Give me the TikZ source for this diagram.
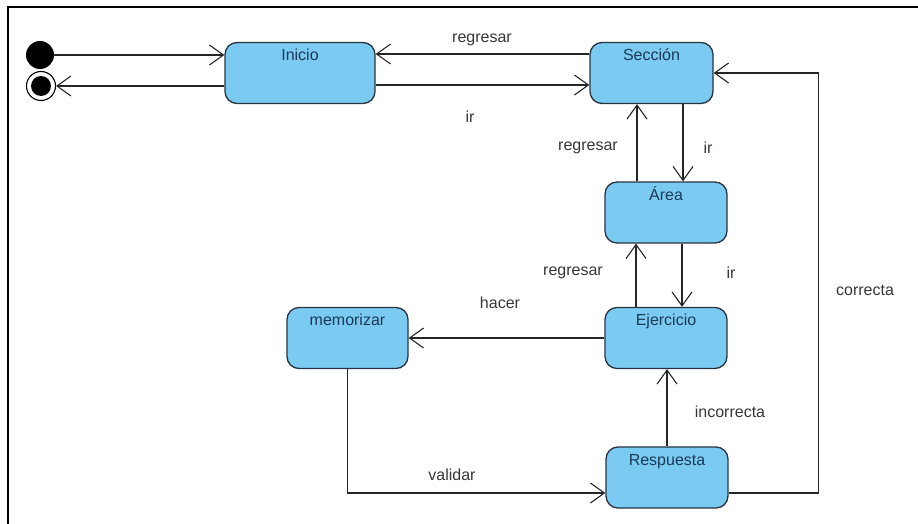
\documentclass[tikz,border=0pt]{standalone}
\usepackage{fontspec}
\setmainfont{Liberation Sans}
\usetikzlibrary{arrows.meta,calc}
\definecolor{stfill}{RGB}{122,202,242}
\definecolor{stdraw}{RGB}{40,52,64}
\definecolor{sttext}{RGB}{28,58,88}
\definecolor{lbtext}{RGB}{55,55,55}
\begin{document}
\begin{tikzpicture}[x=1pt,y=-1pt,
  state/.style={draw=stdraw, fill=stfill, line width=1.3pt, rounded corners=12pt,
    minimum height=61pt, inner ysep=6pt, text height=12pt, text depth=37pt,
    text=sttext, font=\fontsize{16}{19}\selectfont},
  arr/.style={-{Straight Barb[length=14pt,width=20pt]}, line width=1.1pt, draw=black!85},
  lbl/.style={text=lbtext, font=\fontsize{16}{19}\selectfont, inner sep=0pt}]
\useasboundingbox (0,0) rectangle (918,524);
\draw[line width=1.6pt] (8,524) -- (8,7) -- (918,7);
% initial / final
\node[circle, fill=black, minimum size=28pt, inner sep=0pt] (ini) at (40,55) {};
\node[circle, draw=black, line width=1.1pt, fill=white, minimum size=29pt, inner sep=0pt] (fin) at (41,86) {};
\node[circle, fill=black, minimum size=20pt, inner sep=0pt] at (fin) {};
% states
\node[state, minimum width=150pt] (Inicio) at (300,73) {Inicio};
\node[state, minimum width=123pt] (Seccion) at (651.5,73) {Sección};
\node[state, minimum width=122pt] (Area) at (666,212.5) {Área};
\node[state, minimum width=122pt] (Ejercicio) at (666,338) {Ejercicio};
\node[state, minimum width=121pt] (memorizar) at (347.5,338) {memorizar};
\node[state, minimum width=122pt] (Respuesta) at (667,477.5) {Respuesta};
% connectors
\draw[arr] (ini.east) -- (ini -| Inicio.west);
\draw[arr] ($(Inicio.west)+(0,13)$) -- (fin.east);
\draw[arr] ($(Seccion.west)+(0,-19)$) -- ($(Inicio.east)+(0,-19)$);
\draw[arr] ($(Inicio.east)+(0,12)$) -- ($(Seccion.west)+(0,12)$);
\draw[arr] ($(Area.north)+(-29,0)$) -- ($(Seccion.south)+(-14.5,0)$);
\draw[arr] ($(Seccion.south)+(31.5,0)$) -- ($(Area.north)+(17,0)$);
\draw[arr] ($(Ejercicio.north)+(-30,0)$) -- ($(Area.south)+(-30,0)$);
\draw[arr] ($(Area.south)+(16,0)$) -- ($(Ejercicio.north)+(16,0)$);
\draw[arr] (Ejercicio.west) -- (memorizar.east);
\draw[arr] (memorizar.south) |- ($(Respuesta.west)+(0,15.5)$);
\draw[arr] (Respuesta.north) -- (Respuesta.north |- Ejercicio.south);
\draw[arr] ($(Respuesta.east)+(0,15.5)$) -| ($(Seccion.east)+(105,0)$) -- (Seccion.east);
% labels
\node[lbl] (l1) at (482,40) {regresar};
\node[lbl] (l2) at (470,117) {ir};
\node[lbl] (l3) at (588,148) {regresar};
\node[lbl] (l4) at (708,148) {ir};
\node[lbl] (l5) at (573,273) {regresar};
\node[lbl] (l6) at (731,273) {ir};
\node[lbl] (l7) at (500,303) {hacer};
\node[lbl] (l8) at (865,290) {correcta};
\node[lbl] (l9) at (730,412) {incorrecta};
\node[lbl] (l10) at (452,475) {validar};
\end{tikzpicture}
\end{document}
